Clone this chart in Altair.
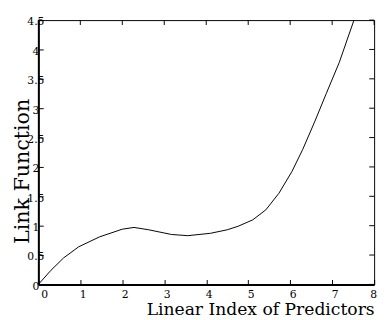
import altair as alt
import pandas as pd

xs = [0, 0.3, 0.6, 0.96, 1.46, 2.0, 2.28, 2.63, 3.17, 3.56, 4.1, 4.5, 4.76,
      5.11, 5.42, 5.73, 6.04, 6.3, 6.59, 6.86, 7.17, 7.52]
ys = [0, 0.24, 0.45, 0.64, 0.81, 0.94, 0.97, 0.93, 0.85, 0.83, 0.87, 0.93,
      0.99, 1.10, 1.27, 1.55, 1.92, 2.3, 2.78, 3.25, 3.78, 4.5]
x_ticks = [0, 1, 2, 3, 4, 5, 6, 7, 8]
y_ticks = [0, 0.5, 1, 1.5, 2, 2.5, 3, 3.5, 4, 4.5]

df = pd.DataFrame({"x": xs, "y": ys})
xt = pd.DataFrame({"x": x_ticks})
yt = pd.DataFrame({"y": y_ticks})
FONT = "DejaVu Serif"
W, H = 343, 270
TL = 5

xscale = alt.Scale(domain=[0, 8], nice=False, zero=False)
yscale = alt.Scale(domain=[0, 4.5], nice=False, zero=False)

x_axis = alt.Axis(
    orient="bottom", values=x_ticks, grid=False, format="~g",
    tickSize=alt.ExprRef("-5"), tickColor="black", tickWidth=1,
    domainColor="black", domainWidth=2, labelPadding=9, labelOffset=2.5,
    labelFont=FONT, labelFontSize=11, labelColor="black",
    title="Linear Index of Predictors", titleFont=FONT, titleFontSize=17.5,
    titleFontWeight="normal", titleColor="black", titleAlign="right",
    titleAnchor="end", titleX=343, titleY=31, titleBaseline="alphabetic")
y_axis = alt.Axis(
    orient="left", values=y_ticks, grid=False, format="~g",
    tickSize=alt.ExprRef("-5"), tickColor="black", tickWidth=1,
    domainColor="black", domainWidth=2, labelPadding=8, labelAlign="center",
    labelBaseline="middle", labelOffset=2, labelOverlap=False,
    labelFont=FONT, labelFontSize=11, labelColor="black",
    title="Link Function", titleFont=FONT, titleFontSize=21,
    titleFontWeight="normal", titleColor="black", titleAngle=270,
    titleAlign="center", titleX=-10, titleY=154, titleBaseline="alphabetic")

main = alt.Chart(df).mark_line(color="black", strokeWidth=1, clip=True).encode(
    x=alt.X("x:Q", scale=xscale, axis=x_axis),
    y=alt.Y("y:Q", scale=yscale, axis=y_axis),
)

tick_style = dict(color="black", strokeWidth=1)
top_ticks = alt.Chart(xt).mark_rule(**tick_style).encode(
    x=alt.X("x:Q", scale=xscale, axis=None), y=alt.value(0), y2=alt.value(TL))
right_ticks = alt.Chart(yt).mark_rule(**tick_style).encode(
    y=alt.Y("y:Q", scale=yscale, axis=None), x=alt.value(W), x2=alt.value(W - TL))

chart = alt.layer(main, top_ticks, right_ticks).resolve_axis(
    x="independent", y="independent"
).properties(
    width=W, height=H,
    autosize=alt.AutoSizeParams(type="none"),
    padding={"left": 31, "top": 9, "right": 6, "bottom": 33},
).configure_view(stroke="black", strokeWidth=1)

chart.save("out.html", embed_options={"renderer": "svg", "actions": False})
